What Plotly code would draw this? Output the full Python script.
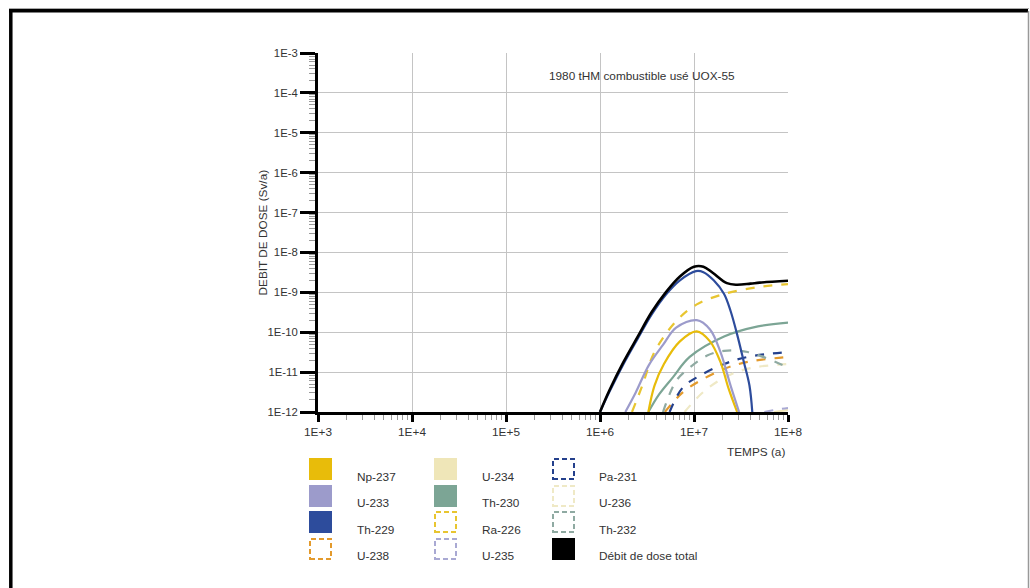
import plotly.graph_objects as go

# ---- dose rate curves: time (years) and dose rate (Sv/a) ----
t_total = [1.0e6, 1.26e6, 1.78e6, 2.51e6, 3.55e6, 5.01e6, 7.08e6, 1.0e7, 1.26e7, 1.58e7, 2.24e7, 2.82e7, 3.98e7, 5.0e7, 1.0e8]
d_total = [1.0e-12, 3.5e-12, 1.8e-11, 7.6e-11, 3.2e-10, 1.0e-9, 2.5e-9, 4.4e-9, 4.4e-9, 3.1e-9, 1.7e-9, 1.55e-9, 1.65e-9, 1.75e-9, 1.95e-9]

t_th229 = [1.0e6, 1.26e6, 1.78e6, 2.51e6, 3.55e6, 5.01e6, 7.08e6, 1.05e7, 1.26e7, 1.62e7, 2.09e7, 2.45e7, 2.88e7, 3.39e7, 3.89e7, 4.17e7]
d_th229 = [1.0e-12, 3.2e-12, 1.6e-11, 6.8e-11, 2.8e-10, 8.7e-10, 2.0e-9, 3.4e-9, 3.2e-9, 2.0e-9, 9.1e-10, 3.4e-10, 8.7e-11, 1.8e-11, 4.6e-12, 1.0e-12]

t_u233 = [1.86e6, 2.4e6, 3.31e6, 4.68e6, 6.46e6, 1.07e7, 1.48e7, 1.91e7, 2.45e7, 3.02e7]
d_u233 = [1.0e-12, 3.1e-12, 1.5e-11, 4.8e-11, 1.3e-10, 2.0e-10, 1.17e-10, 3.2e-11, 4.6e-12, 1.0e-12]

t_np237 = [3.27e6, 3.8e6, 4.79e6, 7.08e6, 1.07e7, 1.48e7, 1.91e7, 2.34e7, 2.88e7]
d_np237 = [1.0e-12, 4.6e-12, 1.6e-11, 5.9e-11, 1.05e-10, 5.9e-11, 1.8e-11, 3.8e-12, 1.0e-12]

t_ra226 = [2.19e6, 2.82e6, 3.8e6, 6.46e6, 1.07e7, 2.09e7, 4.79e7, 1.0e8]
d_ra226 = [1.0e-12, 4.6e-12, 3.2e-11, 1.9e-10, 5.0e-10, 9.1e-10, 1.35e-9, 1.6e-9]

t_th230 = [3.27e6, 4.27e6, 5.96e6, 9.0e6, 2.09e7, 4.79e7, 1.0e8]
d_th230 = [1.0e-12, 2.8e-12, 7.4e-12, 2.4e-11, 7.8e-11, 1.4e-10, 1.74e-10]

t_th232 = [4.68e6, 6.46e6, 9.0e6, 1.38e7, 2.09e7, 3.72e7, 1.0e8]
d_th232 = [1.0e-12, 6.0e-12, 1.3e-11, 2.6e-11, 3.4e-11, 3.2e-11, 1.3e-11]

t_pa231 = [5.5e6, 7.59e6, 1.15e7, 2.09e7, 3.72e7, 1.0e8]
d_pa231 = [1.0e-12, 4.1e-12, 8.1e-12, 1.6e-11, 2.4e-11, 3.2e-11]

t_u238 = [4.9e6, 7.59e6, 1.15e7, 2.09e7, 3.72e7, 1.0e8]
d_u238 = [1.0e-12, 3.1e-12, 6.0e-12, 1.2e-11, 1.8e-11, 2.4e-11]

t_u236 = [7.94e6, 1.26e7, 2.24e7, 3.98e7, 1.0e8]
d_u236 = [1.0e-12, 3.2e-12, 7.9e-12, 1.26e-11, 1.6e-11]

t_u235 = [5.6e7, 7.9e7, 1.0e8]
d_u235 = [1.0e-12, 1.17e-12, 1.26e-12]

t_u234 = [7.1e7, 1.0e8]
d_u234 = [1.0e-12, 1.12e-12]

# ---- axis labels ----
x_tick_vals = [1e3, 1e4, 1e5, 1e6, 1e7, 1e8]
x_tick_text = ["1E+3", "1E+4", "1E+5", "1E+6", "1E+7", "1E+8"]
y_tick_vals = [1e-12, 1e-11, 1e-10, 1e-9, 1e-8, 1e-7, 1e-6, 1e-5, 1e-4, 1e-3]
y_tick_text = ["1E-12", "1E-11", "1E-10", "1E-9", "1E-8", "1E-7", "1E-6", "1E-5", "1E-4", "1E-3"]

# ---- legend layout (three columns of four entries) ----
legend_columns = [
    ["Np-237", "U-233", "Th-229", "U-238"],
    ["U-234", "Th-230", "Ra-226", "U-235"],
    ["Pa-231", "U-236", "Th-232", "Débit de dose total"],
]

# name -> (times, doses, colour, dashed)
series = {
    "U-234": (t_u234, d_u234, "#EFE6B8", False),
    "U-235": (t_u235, d_u235, "#A9A9D3", True),
    "U-236": (t_u236, d_u236, "#EFE9C6", True),
    "U-238": (t_u238, d_u238, "#E39A2C", True),
    "Pa-231": (t_pa231, d_pa231, "#24408C", True),
    "Th-232": (t_th232, d_th232, "#8FAAA2", True),
    "Ra-226": (t_ra226, d_ra226, "#E8C530", True),
    "Th-230": (t_th230, d_th230, "#7CA595", False),
    "Np-237": (t_np237, d_np237, "#E8BC0A", False),
    "U-233": (t_u233, d_u233, "#9C9BCB", False),
    "Th-229": (t_th229, d_th229, "#2D4C9C", False),
    "Débit de dose total": (t_total, d_total, "#000000", False),
}

FONT = "Liberation Sans, Arial, sans-serif"
TXT = "#333333"
FS = 11.8

# plot area in pixels
L, R, T, B = 318, 788, 53, 412
W, H = 1030, 588


def px(x):
    return (x - L) / (R - L)


def py(y):
    return (B - y) / (B - T)


fig = go.Figure()
for name, (t, d, color, dashed) in series.items():
    fig.add_trace(go.Scatter(
        x=t, y=d, mode="lines", name=name, showlegend=False,
        line=dict(color=color, width=2.6 if name.startswith("Débit") else 2.2,
                  dash="dash" if dashed else "solid", shape="spline", smoothing=1.0),
        hoverinfo="name+x+y",
    ))

shapes = []
annotations = []

# legend swatches and labels
col_sq_x = [309, 434, 552]
col_txt_x = [355, 480, 597]
row_sq_y = [458, 485, 511, 538]
row_txt_y = [477, 503, 530, 556]
for ci, names in enumerate(legend_columns):
    for ri, name in enumerate(names):
        color = series[name][2]
        dashed = series[name][3]
        x0, x1 = col_sq_x[ci], col_sq_x[ci] + 23
        y0, y1 = row_sq_y[ri], row_sq_y[ri] + 22
        if dashed:
            shapes.append(dict(type="rect", xref="paper", yref="paper",
                               x0=px(x0 + 1), x1=px(x1 - 1), y0=py(y1 - 1), y1=py(y0 + 1),
                               line=dict(color=color, width=2, dash="5px,3px"),
                               fillcolor="rgba(0,0,0,0)"))
        else:
            shapes.append(dict(type="rect", xref="paper", yref="paper",
                               x0=px(x0), x1=px(x1), y0=py(y1), y1=py(y0),
                               line=dict(width=0), fillcolor=color))
        annotations.append(dict(xref="paper", yref="paper", x=px(col_txt_x[ci]), y=py(row_txt_y[ri]),
                                text=name, showarrow=False, xanchor="left", yanchor="middle",
                                font=dict(family=FONT, size=FS, color=TXT)))

# outer frame
shapes += [
    dict(type="line", xref="paper", yref="paper", x0=px(9), x1=px(1029), y0=py(8.5), y1=py(8.5),
         line=dict(color="#AAAAAA", width=1)),
    dict(type="line", xref="paper", yref="paper", x0=px(9), x1=px(1028), y0=py(10.8), y1=py(10.8),
         line=dict(color="#000000", width=3.5)),
    dict(type="line", xref="paper", yref="paper", x0=px(10.8), x1=px(10.8), y0=py(9), y1=py(590),
         line=dict(color="#000000", width=3.5)),
    dict(type="line", xref="paper", yref="paper", x0=px(1028.5), x1=px(1028.5), y0=py(11), y1=py(590),
         line=dict(color="#999999", width=1.5)),
]

annotations += [
    dict(xref="paper", yref="paper", x=px(547), y=py(76), text="1980 tHM combustible usé UOX-55",
         showarrow=False, xanchor="left", yanchor="middle", font=dict(family=FONT, size=FS, color=TXT)),
    dict(xref="paper", yref="paper", x=px(787), y=py(452), text="TEMPS (a)",
         showarrow=False, xanchor="right", yanchor="middle", font=dict(family=FONT, size=FS, color=TXT)),
    dict(xref="paper", yref="paper", x=px(262), y=0.5, text="DEBIT DE DOSE (Sv/a)", textangle=-90,
         showarrow=False, xanchor="center", yanchor="middle", font=dict(family=FONT, size=FS, color=TXT)),
]

x_minor = [k * 10 ** n for n in range(3, 8) for k in range(2, 10)]
y_minor = [k * 10.0 ** n for n in range(-12, -3) for k in range(2, 10)]

fig.update_layout(
    width=W, height=H,
    margin=dict(l=L, r=W - R, t=T, b=H - B, pad=0),
    paper_bgcolor="white", plot_bgcolor="white",
    font=dict(family=FONT, size=FS, color=TXT),
    showlegend=False,
    shapes=shapes,
    annotations=annotations,
    xaxis=dict(
        type="log", range=[3, 8], tickmode="array", tickvals=x_tick_vals, ticktext=x_tick_text,
        ticks="outside", ticklen=7, tickwidth=2.5, tickcolor="#000000",
        showline=True, linecolor="#000000", linewidth=3,
        showgrid=True, gridcolor="#C4C4C4", gridwidth=1, zeroline=False,
        tickfont=dict(family=FONT, size=FS, color=TXT),
        minor=dict(tickmode="array", tickvals=x_minor, ticks="outside", ticklen=5,
                   tickwidth=1, tickcolor="#9A9A9A", showgrid=False),
    ),
    yaxis=dict(
        type="log", range=[-12, -3], tickmode="array", tickvals=y_tick_vals, ticktext=y_tick_text,
        ticks="outside", ticklen=15, tickwidth=2.5, tickcolor="#000000",
        showline=True, linecolor="#000000", linewidth=3,
        showgrid=True, gridcolor="#C4C4C4", gridwidth=1, zeroline=False,
        tickfont=dict(family=FONT, size=11.3, color=TXT),
        minor=dict(tickmode="array", tickvals=y_minor, ticks="outside", ticklen=6,
                   tickwidth=1, tickcolor="#9A9A9A", showgrid=False),
    ),
)

fig.write_html("out.html")
